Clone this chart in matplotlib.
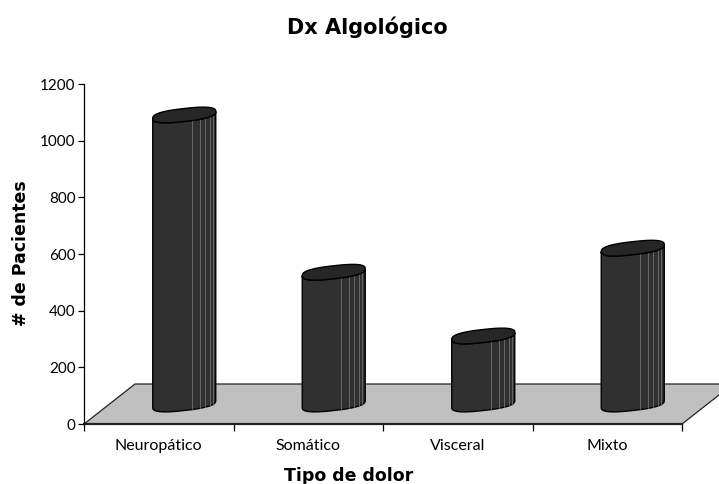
import numpy as np
import matplotlib
matplotlib.use("Agg")
import matplotlib.pyplot as plt
from matplotlib.patches import Polygon

plt.rcParams['font.family'] = ['Lato', 'DejaVu Sans']

categories = ['Neuropático', 'Somático', 'Visceral', 'Mixto']
pacientes = [1020, 465, 240, 550]
y_ticks = [0, 200, 400, 600, 800, 1000, 1200]

W, H, DPI = 719, 484, 100
fig = plt.figure(figsize=(W / DPI, H / DPI), dpi=DPI)
ax = fig.add_axes([84 / W, 60 / H, 598 / W, 340 / H])
ax.set_xlim(0, len(categories))
ax.set_ylim(0, 1200)

# pixel <-> data scale of the axes
px_x = 598 / len(categories)
px_y = 340 / 1200.0

# floor depth in data units
depth_x = 51 / px_x
depth_y = 40 / px_y

floor = Polygon([(0, 0), (4, 0), (4 + depth_x, depth_y), (depth_x, depth_y)],
                closed=True, facecolor='#c0c0c0', edgecolor='#222222',
                linewidth=0.9, clip_on=False, zorder=1)
ax.add_patch(floor)


def ellipse_pts(cx, cy, t, n=2.6):
    # rounded (superellipse) cap, sheared so the right side sits higher
    a = 31.5 / px_x
    b = 6.5 / px_y
    k = 3.5 / px_y
    c, s = np.cos(t), np.sin(t)
    cu = np.sign(c) * np.abs(c) ** (2 / n)
    su = np.sign(s) * np.abs(s) ** (2 / n)
    return cx + a * cu, cy + b * su + k * cu


def cylinder(cx, base, top):
    # body: front half of the bottom cap, back up along the top cap
    t_front = np.linspace(np.pi, 2 * np.pi, 80)
    bx, by = ellipse_pts(cx, base, t_front)
    tx, ty = ellipse_pts(cx, top, t_front[::-1])
    body = np.column_stack([np.r_[bx, tx], np.r_[by, ty]])
    ax.add_patch(Polygon(body, closed=True, facecolor='#303030',
                         edgecolor='#000000', linewidth=1.0, zorder=3,
                         clip_on=False))
    # facet lines on the right side
    a = 31.5 / px_x
    for f in [0.24, 0.49, 0.65, 0.81, 0.90]:
        x0 = cx + a * f
        t = 2 * np.pi - np.arccos(f ** (2.6 / 2))
        _, y0 = ellipse_pts(cx, base, t)
        _, y1 = ellipse_pts(cx, top, t)
        ax.plot([x0, x0], [y0, y1], color='#707070', linewidth=0.6,
                zorder=4, clip_on=False)
    t_all = np.linspace(0, 2 * np.pi, 160)
    ex, ey = ellipse_pts(cx, top, t_all)
    ax.add_patch(Polygon(np.column_stack([ex, ey]), closed=True,
                         facecolor='#262626', edgecolor='#000000',
                         linewidth=1.0, zorder=5, clip_on=False))


base = depth_y / 2
for i, v in enumerate(pacientes):
    cylinder(i + 0.5 + depth_x / 2, base, base + v)

for side in ['top', 'right']:
    ax.spines[side].set_visible(False)
ax.spines['left'].set_color('#000000')
ax.spines['left'].set_linewidth(0.9)
ax.spines['bottom'].set_color('#222222')
ax.spines['bottom'].set_linewidth(1.6)
ax.spines['bottom'].set_zorder(2)

ax.set_yticks(y_ticks)
ax.set_yticklabels([str(v) for v in y_ticks], fontsize=11)
ax.set_xticks(range(len(categories) + 1))
ax.set_xticklabels([])
ax.set_xticks([i + 0.5 for i in range(len(categories))], minor=True)
ax.set_xticklabels(categories, minor=True, fontsize=11.5)
ax.tick_params(axis='x', which='major', direction='out', length=5, width=0.9)
ax.tick_params(axis='x', which='minor', length=0, pad=11)
ax.tick_params(axis='y', direction='out', length=4, width=0.9, pad=2)

# titles placed in figure pixels
bold = dict(fontweight='bold', family=['DejaVu Sans'])
fig.text(367.5 / W, 1 - 34 / H, 'Dx Algológico', ha='center',
         va='baseline', fontsize=15, **bold)
fig.text(348.5 / W, 1 - 481 / H, 'Tipo de dolor', ha='center',
         va='baseline', fontsize=12.5, **bold)
fig.text(21.5 / W, 1 - 253 / H, '# de Pacientes', ha='center',
         va='center', rotation=90, fontsize=12.5, **bold)

fig.savefig('out.png', dpi=DPI)
